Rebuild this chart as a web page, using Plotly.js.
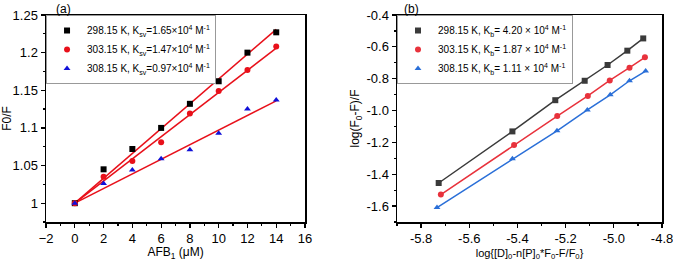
<!DOCTYPE html>
<html><head><meta charset="utf-8">
<script src="https://cdn.plot.ly/plotly-3.0.1.min.js"></script>
<style>html,body{margin:0;padding:0;background:#fff}</style>
</head><body><div id="chart" style="width:673px;height:261px"></div>
<script>
// Panel (a): Stern-Volmer
const afbConc = [0, 2, 4, 6, 8, 10, 12, 14];
const f0f_298 = [1.000, 1.045, 1.072, 1.100, 1.132, 1.162, 1.200, 1.227];
const f0f_303 = [1.000, 1.035, 1.056, 1.081, 1.119, 1.149, 1.177, 1.208];
const f0f_308 = [1.000, 1.026, 1.044, 1.059, 1.071, 1.093, 1.125, 1.137];
const fitX = [0, 14];
const fit_298 = [1.000, 1.231];
const fit_303 = [1.000, 1.206];
const fit_308 = [1.000, 1.136];
const namesA = [
  "298.15 K, K<sub>sv</sub>=1.65×10<sup>4</sup> M<sup>-1</sup>",
  "303.15 K, K<sub>sv</sub>=1.47×10<sup>4</sup> M<sup>-1</sup>",
  "308.15 K, K<sub>sv</sub>=0.97×10<sup>4</sup> M<sup>-1</sup>"
];
// Panel (b): double-log
const logX_298 = [-5.727, -5.421, -5.243, -5.121, -5.026, -4.944, -4.878];
const logY_298 = [-1.455, -1.131, -0.935, -0.813, -0.714, -0.624, -0.547];
const logX_303 = [-5.718, -5.414, -5.235, -5.108, -5.017, -4.935, -4.871];
const logY_303 = [-1.528, -1.216, -1.035, -0.908, -0.811, -0.731, -0.666];
const logX_308 = [-5.734, -5.421, -5.236, -5.110, -5.015, -4.935, -4.868];
const logY_308 = [-1.609, -1.303, -1.127, -0.996, -0.901, -0.813, -0.752];
const namesB = [
  "298.15 K, K<sub>b</sub>= 4.20 × 10<sup>4</sup> M<sup>-1</sup>",
  "303.15 K, K<sub>b</sub>= 1.87 × 10<sup>4</sup> M<sup>-1</sup>",
  "308.15 K, K<sub>b</sub>= 1.11 × 10<sup>4</sup> M<sup>-1</sup>"
];
const xTicksA = [-2, 0, 2, 4, 6, 8, 10, 12, 14, 16];
const yTicksA = [1, 1.05, 1.1, 1.15, 1.2, 1.25];
const yTickTextA = ["1", "1.05", "1.1", "1.15", "1.2", "1.25"];
const xTicksB = [-5.8, -5.6, -5.4, -5.2, -5.0, -4.8];
const xTickTextB = ["-5.8", "-5.6", "-5.4", "-5.2", "-5.0", "-4.8"];
const yTicksB = [-1.6, -1.4, -1.2, -1.0, -0.8, -0.6, -0.4];
const yTickTextB = ["-1.6", "-1.4", "-1.2", "-1.0", "-0.8", "-0.6", "-0.4"];

const colA = ["#000000", "#e8101a", "#1010d8"];
const colB = ["#3a3a3a", "#e8323c", "#2a6fd8"];
const symbols = ["square", "circle", "triangle-up"];
const fitColor = "#e8101a";

const traces = [];
[fit_298, fit_303, fit_308].forEach(f => traces.push({
  x: fitX, y: f, mode: "lines", line: {color: fitColor, width: 1.5},
  showlegend: false, xaxis: "x", yaxis: "y", hoverinfo: "skip"
}));
[f0f_298, f0f_303, f0f_308].forEach((s, i) => traces.push({
  x: afbConc, y: s, mode: "markers", name: namesA[i],
  marker: {symbol: symbols[i], color: colA[i], size: 6},
  xaxis: "x", yaxis: "y", legend: "legend"
}));
const dataB = [[logX_298, logY_298], [logX_303, logY_303], [logX_308, logY_308]];
dataB.forEach((d, i) => traces.push({
  x: d[0], y: d[1], mode: "lines",
  line: {color: colB[i], width: 1.5}, showlegend: false,
  xaxis: "x2", yaxis: "y2", hoverinfo: "skip"
}));
dataB.forEach((d, i) => traces.push({
  x: d[0], y: d[1], mode: "markers", name: namesB[i],
  marker: {symbol: symbols[i], color: colB[i], size: 6},
  xaxis: "x2", yaxis: "y2", legend: "legend2"
}));

const fam = "Liberation Sans, Arial, sans-serif";
const axBase = {
  showline: true, mirror: true, linecolor: "#000", linewidth: 1.5,
  ticks: "outside", ticklen: 4, tickwidth: 1.2, tickcolor: "#000",
  showgrid: false, zeroline: false, ticklabeloverflow: "allow",
  tickfont: {family: fam, size: 13, color: "#000"}
};
const layout = {
  width: 673, height: 261,
  margin: {l: 0, r: 0, t: 0, b: 0},
  paper_bgcolor: "#fff", plot_bgcolor: "#fff",
  font: {family: fam, size: 12, color: "#000"},
  xaxis: Object.assign({}, axBase, {
    domain: [0.0684, 0.4532], range: [-2, 16],
    tickmode: "array", tickvals: xTicksA,
    minor: {ticks: "outside", ticklen: 2, dtick: 1, tickcolor: "#000"},
    title: {text: "AFB<sub>1</sub> (μM)", font: {size: 12}, standoff: 6},
    anchor: "y"
  }),
  yaxis: Object.assign({}, axBase, {
    domain: [0.1494, 0.9425], range: [0.975, 1.25],
    tickmode: "array", tickvals: yTicksA, ticktext: yTickTextA,
    minor: {ticks: "outside", ticklen: 2, dtick: 0.025, tickcolor: "#000"},
    title: {text: "F0/F", font: {size: 12}, standoff: 4},
    anchor: "x"
  }),
  xaxis2: Object.assign({}, axBase, {
    domain: [0.5899, 0.9837], range: [-5.9, -4.8],
    tickmode: "array", tickvals: xTicksB, ticktext: xTickTextB,
    minor: {ticks: "outside", ticklen: 2, dtick: 0.1, tickcolor: "#000"},
    title: {text: "log{[D]<sub>0</sub>-n[P]<sub>0</sub>*F<sub>0</sub>-F/F<sub>0</sub>}", font: {size: 11}, standoff: 6},
    anchor: "y2"
  }),
  yaxis2: Object.assign({}, axBase, {
    domain: [0.1494, 0.9425], range: [-1.7, -0.4],
    tickmode: "array", tickvals: yTicksB, ticktext: yTickTextB,
    minor: {ticks: "outside", ticklen: 2, dtick: 0.1, tickcolor: "#000"},
    title: {text: "log(F<sub>0</sub>-F)/F", font: {size: 12}, standoff: 4},
    anchor: "x2"
  }),
  legend: {
    x: 0.0684, y: 0.9425, xanchor: "left", yanchor: "top",
    bgcolor: "#fff", bordercolor: "#999", borderwidth: 1,
    font: {size: 10}, itemwidth: 30
  },
  legend2: {
    x: 0.5899, y: 0.9425, xanchor: "left", yanchor: "top",
    bgcolor: "#fff", bordercolor: "#999", borderwidth: 1,
    font: {size: 10}, itemwidth: 30
  },
  annotations: [
    {text: "(a)", x: 0.08, y: 1.0, xref: "paper", yref: "paper", xanchor: "left", yanchor: "top", showarrow: false, font: {size: 12}},
    {text: "(b)", x: 0.598, y: 1.0, xref: "paper", yref: "paper", xanchor: "left", yanchor: "top", showarrow: false, font: {size: 12}}
  ]
};
Plotly.newPlot("chart", traces, layout, {displayModeBar: false, staticPlot: true});
</script></body></html>
